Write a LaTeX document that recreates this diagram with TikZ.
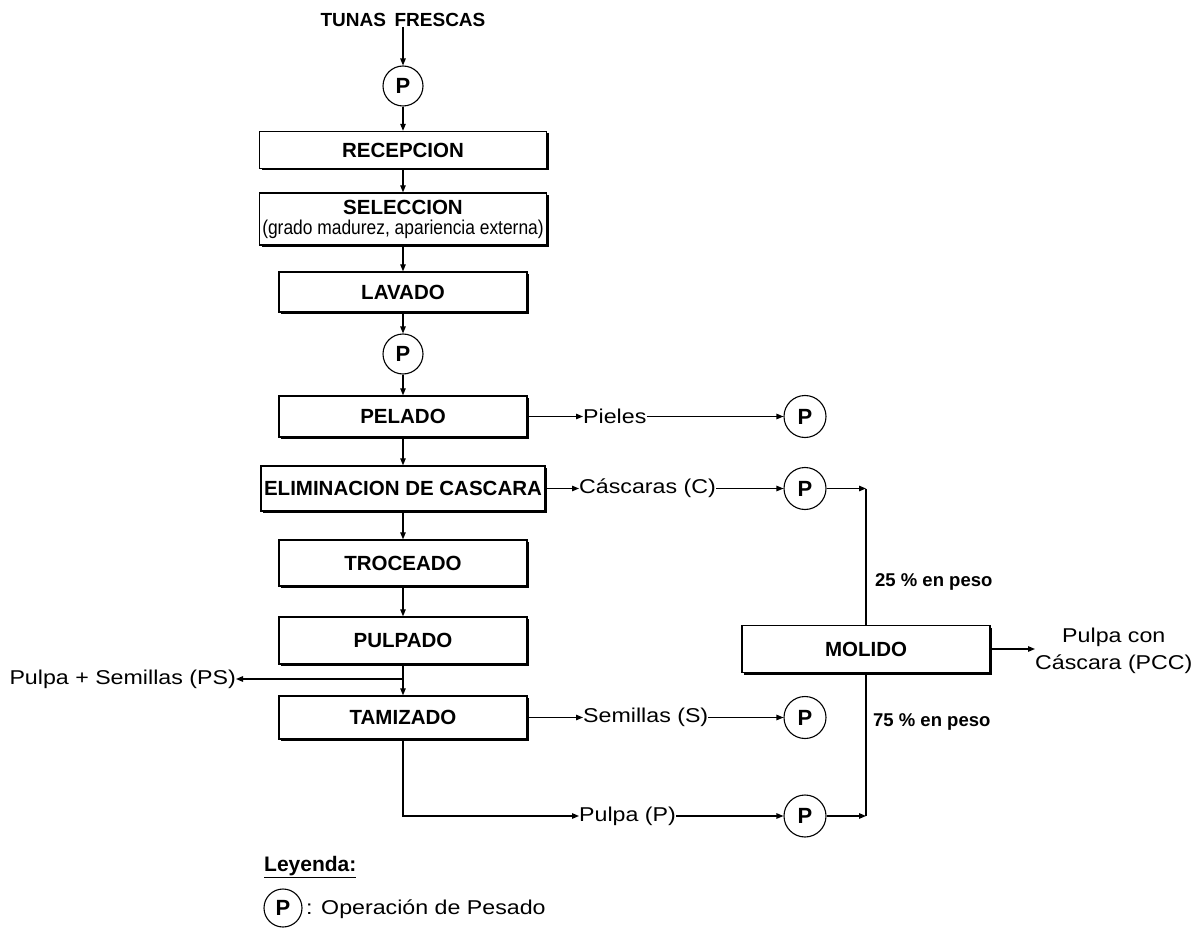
\documentclass[tikz,border=0pt]{standalone}
\usepackage{fontspec}
\setmainfont{Liberation Sans}
\newfontfamily\widefont[FakeStretch=1.16]{Liberation Sans}
\newfontfamily\narrowfont[FakeStretch=0.87]{Liberation Sans}
\usetikzlibrary{arrows.meta,shadows,calc}
\tikzset{
  conn/.style={line width=1.2pt},
  arr/.style={line width=1.2pt,-{Triangle[length=7pt,width=5.5pt]}},
  proc/.style={draw,line width=1.4pt,fill=white,inner sep=0pt,
    font=\fontsize{20.5}{22}\selectfont\bfseries,
    general shadow={fill=black,shadow xshift=2pt,shadow yshift=-2pt}},
  weigh/.style={draw,circle,line width=1.1pt,fill=white,minimum size=40pt,inner sep=0pt,
    font=\fontsize{22}{22}\selectfont\bfseries},
  lbl/.style={inner sep=0pt,font=\fontsize{20}{22}\selectfont\widefont},
  pct/.style={inner sep=0pt,font=\fontsize{18.5}{20}\selectfont\bfseries},
}
\begin{document}
\begin{tikzpicture}[x=1pt,y=-1pt]
\useasboundingbox (0,0) rectangle (1195,928);

% main column
\node[inner sep=0pt,font=\fontsize{19}{21}\selectfont\bfseries] (tunas) at (403,20) {TUNAS\hspace{0.45em}FRESCAS};
\node[weigh] (p1) at (403,86) {P};
\node[proc,minimum width=287pt,minimum height=37pt] (recep) at (403,150) {RECEPCION};
\node[proc,minimum width=287pt,minimum height=52pt,align=center] (selec) at (403,219)
  {SELECCION\\[-2pt]{\narrowfont\mdseries\fontsize{20}{20}\selectfont (grado madurez, apariencia externa)}};
\node[proc,minimum width=248pt,minimum height=40pt] (lavado) at (403,292) {LAVADO};
\node[weigh] (p2) at (403,354) {P};
\node[proc,minimum width=248pt,minimum height=41pt] (pelado) at (403,416.5) {PELADO};
\node[proc,minimum width=284pt,minimum height=45pt] (elim) at (403,488.5) {ELIMINACION DE CASCARA};
\node[proc,minimum width=248pt,minimum height=46pt] (troc) at (403,563) {TROCEADO};
\node[proc,minimum width=248pt,minimum height=47pt] (pulp) at (403,640.5) {PULPADO};
\node[proc,minimum width=248pt,minimum height=43pt] (tami) at (403,717.5) {TAMIZADO};

\draw[arr] (tunas) -- (p1);
\draw[arr] (p1) -- (recep);
\draw[arr] (recep) -- (selec);
\draw[arr] (selec) -- (lavado);
\draw[arr] (lavado) -- (p2);
\draw[arr] (p2) -- (pelado);
\draw[arr] (pelado) -- (elim);
\draw[arr] (elim) -- (troc);
\draw[arr] (troc) -- (pulp);
\draw[arr] (pulp) -- (tami);

% Pulpa + Semillas
\coordinate (psj) at (403,679);
\node[lbl,anchor=east] (ps) at (236,679) {Pulpa + Semillas (PS)};
\draw[arr] (psj) -- (ps);

% right branches
\node[lbl,anchor=west] (piel) at (583,416.5) {Pieles};
\node[weigh,minimum size=42pt] (pp) at (805,416.5) {P};
\draw[arr] (pelado) -- (piel);
\draw[arr] (piel) -- (pp);

\node[lbl,anchor=west] (casc) at (579,488.5) {Cáscaras (C)};
\node[weigh,minimum size=42pt] (pc) at (805,488.5) {P};
\draw[arr] (elim) -- (casc);
\draw[arr] (casc) -- (pc);
\coordinate (jc) at (866,488.5);
\draw[arr] (pc) -- (jc);

\node[lbl,anchor=west] (sem) at (583,717.5) {Semillas (S)};
\node[weigh,minimum size=42pt] (psem) at (805,717.5) {P};
\draw[arr] (tami) -- (sem);
\draw[arr] (sem) -- (psem);

\node[lbl,anchor=west] (pulpa) at (579,816) {Pulpa (P)};
\node[weigh,minimum size=42pt] (ppul) at (805,816) {P};
\draw[arr] (tami.south) |- (pulpa);
\draw[arr] (pulpa) -- (ppul);
\coordinate (jp) at (866,816);
\draw[arr] (ppul) -- (jp);

% molido
\node[proc,minimum width=248pt,minimum height=47pt] (mol) at (866,649) {MOLIDO};
\draw[conn] (jc) -- (mol.north);
\draw[conn] (mol.south) -- (jp);
\node[pct,anchor=west] (p25) at (875,582) {25 \% en peso};
\node[pct,anchor=west] (p75) at (873,722) {75 \% en peso};
\node[lbl,anchor=west,align=center,font=\fontsize{20}{27}\selectfont\widefont] (pcc) at (1035,651) {Pulpa con\\Cáscara (PCC)};
\draw[arr] (mol) -- (pcc.west |- mol);

% legend
\node[inner sep=0pt,anchor=west,font=\fontsize{21}{22}\selectfont\bfseries] (ley) at (264,867) {\underline{Leyenda:}};
\node[weigh,minimum size=38pt] (lp) at (283,908) {P};
\node[lbl,anchor=west] (ltxt) at (306,909) {: Operación de Pesado};
\end{tikzpicture}
\end{document}
